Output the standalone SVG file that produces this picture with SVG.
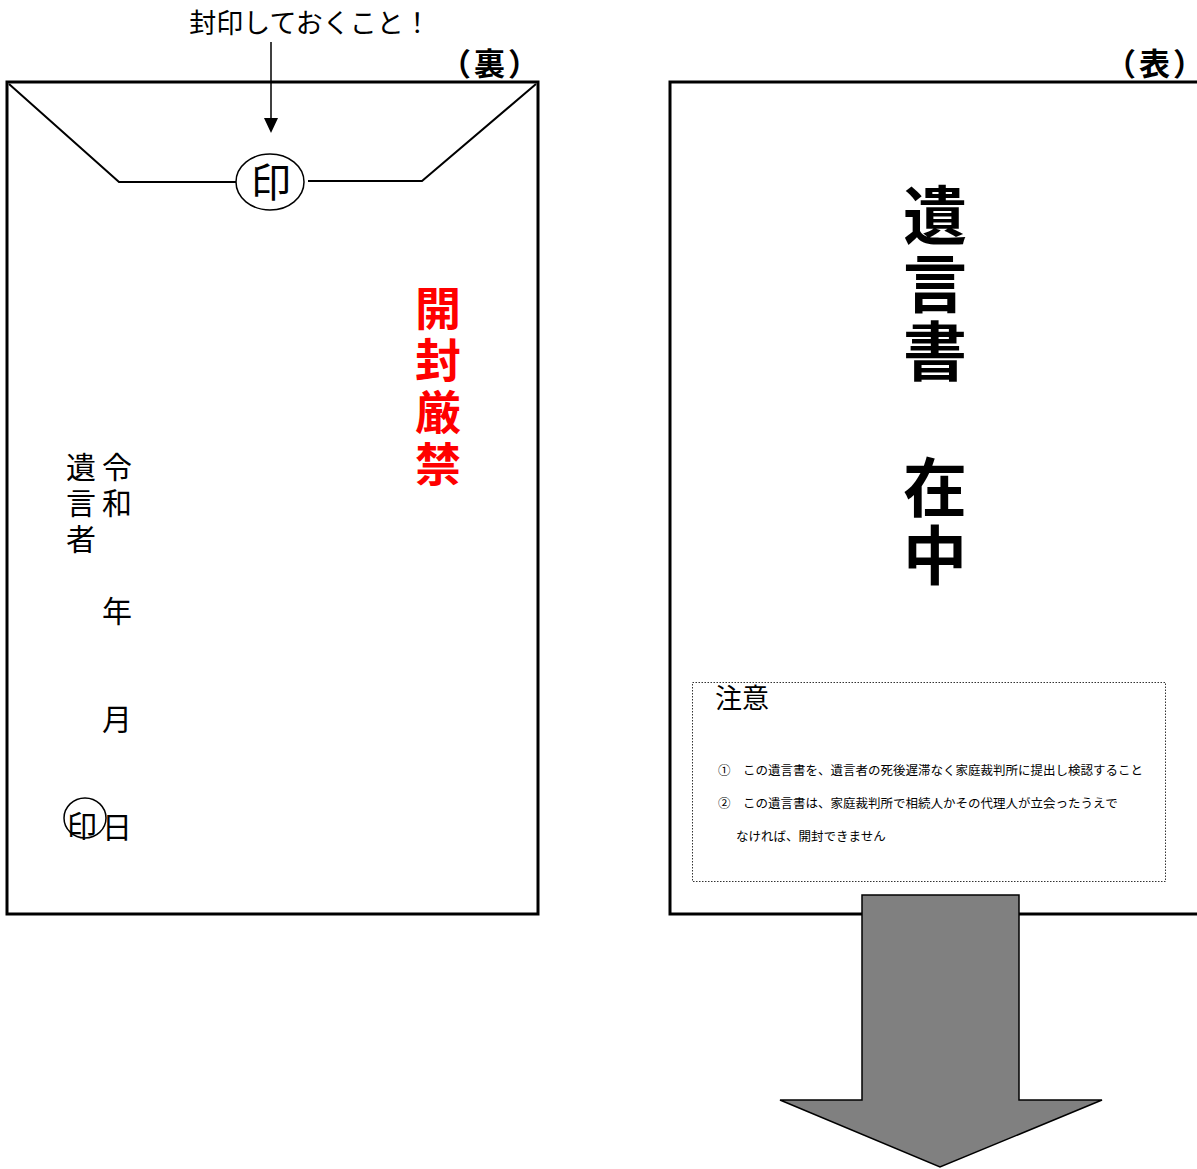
<svg xmlns="http://www.w3.org/2000/svg" width="1197" height="1169" viewBox="0 0 1197 1169">
<style>
text{font-family:"Noto Sans CJK JP","Noto Sans",sans-serif;fill:#000}
.env{fill:#fff;stroke:#000;stroke-width:3}
.ln{stroke:#000;stroke-width:2;fill:none}
.b{font-weight:bold}
.vt{writing-mode:vertical-rl}
.v30{font-size:30px;letter-spacing:6px}
.note{font-size:12.5px}
</style>
<rect width="1197" height="1169" fill="#fff"/>

<g id="back-envelope">
<rect class="env" x="7" y="82" width="531" height="832"/>
<path class="ln" d="M9,84 L119,182 L236,182"/>
<path class="ln" d="M308,181 L422,181 L536,84"/>
<ellipse cx="270" cy="182" rx="34" ry="28" fill="#fff" stroke="#000" stroke-width="1.5"/>
<text x="271" y="197" font-size="40" text-anchor="middle">印</text>
<text x="440" y="75" font-size="31" class="b" letter-spacing="3">（裏）</text>
<text x="438" y="285" font-size="46" class="b vt" letter-spacing="6" style="fill:#ff0000">開封厳禁</text>
<text x="81" y="452" class="vt v30">遺言者</text>
<text x="117" y="452" class="vt v30">令和　　年　　月　　日</text>
<ellipse cx="85" cy="818" rx="21" ry="20" fill="none" stroke="#000" stroke-width="1.5"/>
<text x="82" y="837" font-size="30" text-anchor="middle">印</text>
</g>

<g id="seal-note">
<text x="310" y="33" font-size="27" text-anchor="middle">封印しておくこと！</text>
</g>

<g id="front-envelope">
<rect class="env" x="670" y="82" width="600" height="832"/>
<text x="1105" y="75" font-size="31" class="b" letter-spacing="3">（表）</text>
<text x="935" y="183" font-size="64" class="b vt" letter-spacing="4">遺言書　在中</text>
</g>

<g id="caution-box">
<rect x="692.5" y="682.5" width="473" height="199" fill="#fff" stroke="#333" stroke-width="1" stroke-dasharray="1.5,1.5"/>
<text x="715" y="708" font-size="27">注意</text>
<text x="718" y="775" class="note">①　この遺言書を、遺言者の死後遅滞なく家庭裁判所に提出し検認すること</text>
<text x="718" y="808" class="note">②　この遺言書は、家庭裁判所で相続人かその代理人が立会ったうえで</text>
<text x="736" y="841" class="note">なければ、開封できません</text>
</g>

<g id="connectors">
<line x1="271" y1="42" x2="271" y2="119" stroke="#000" stroke-width="1.5"/>
<path d="M264,118 L278,118 L271,133 Z" fill="#000"/>
<path d="M862,895 L1019,895 L1019,1100 L1102,1100 L940,1167 L780,1100 L862,1100 Z" fill="#808080" stroke="#000" stroke-width="1.5"/>
</g>
</svg>
